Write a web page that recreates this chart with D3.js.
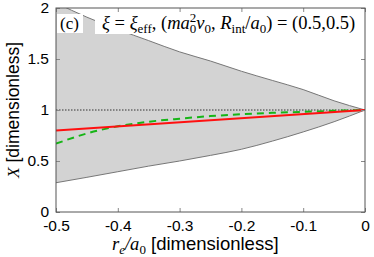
<!DOCTYPE html>
<html>
<head>
<meta charset="utf-8">
<script src="https://cdn.jsdelivr.net/npm/d3@7"></script>
<style>
  body { margin: 0; background: #fff; }
  text { fill: #000; }
</style>
</head>
<body>
<div id="container"></div>
<script>
// values
var reValues   = [-0.5, -0.45, -0.4, -0.35, -0.3, -0.25, -0.2, -0.15, -0.1, -0.05, 0];
var bandUpper  = [2.05, 1.91, 1.79, 1.68, 1.57, 1.48, 1.38, 1.29, 1.20, 1.09, 1.0];
var bandLower  = [0.287, 0.34, 0.395, 0.45, 0.50, 0.555, 0.615, 0.695, 0.785, 0.885, 1.0];
var greenX     = [0.67, 0.77, 0.84, 0.885, 0.915, 0.94, 0.958, 0.972, 0.982, 0.992, 1.0];
var redX       = [0.80, 1.0];
var redRe      = [-0.5, 0];
var xTicks     = [-0.5, -0.4, -0.3, -0.2, -0.1, 0];
var yTicks     = [0, 0.5, 1, 1.5, 2];

var margin = { top: 8, right: 9, bottom: 45, left: 56 },
  width = 374 - margin.left - margin.right,
  height = 257 - margin.top - margin.bottom;

var x = d3.scaleLinear().domain([-0.5, 0]).range([0, width]);
var y = d3.scaleLinear().domain([0, 2]).range([height, 0]);

var svg = d3.select("#container")
  .append("svg")
  .attr("width", 374)
  .attr("height", 257);

var g = svg.append("g")
  .attr("transform", "translate(" + margin.left + "," + margin.top + ")");

g.append("clipPath").attr("id", "clip")
  .append("rect").attr("width", width).attr("height", height);

var band = reValues.map(function (r, i) { return { r: r, lo: bandLower[i], hi: bandUpper[i] }; });

var area = d3.area()
  .curve(d3.curveMonotoneX)
  .x(function (d) { return x(d.r); })
  .y0(function (d) { return y(d.lo); })
  .y1(function (d) { return y(d.hi); });

var plot = g.append("g").attr("clip-path", "url(#clip)");

plot.append("path")
  .attr("d", area(band))
  .attr("fill", "#d3d3d3");

var line = d3.line()
  .curve(d3.curveMonotoneX)
  .x(function (d) { return x(d[0]); })
  .y(function (d) { return y(d[1]); });

plot.append("path")
  .attr("d", line(band.map(function (d) { return [d.r, d.hi]; })))
  .attr("fill", "none").attr("stroke", "#777").attr("stroke-width", 1);
plot.append("path")
  .attr("d", line(band.map(function (d) { return [d.r, d.lo]; })))
  .attr("fill", "none").attr("stroke", "#777").attr("stroke-width", 1);

// dotted reference at X = 1
plot.append("path")
  .attr("d", line([[-0.5, 1], [0, 1]]))
  .attr("stroke", "#333").attr("stroke-width", 1)
  .attr("stroke-dasharray", "1.5,1.5");

plot.append("path")
  .attr("d", line(reValues.map(function (r, i) { return [r, greenX[i]]; })))
  .attr("fill", "none").attr("stroke", "#16b516").attr("stroke-width", 2)
  .attr("stroke-dasharray", "7,5");

plot.append("path")
  .attr("d", line(redRe.map(function (r, i) { return [r, redX[i]]; })))
  .attr("fill", "none").attr("stroke", "#ff1010").attr("stroke-width", 2);

// axes with inward ticks on all sides
var tickLen = 4;
var fmt = function (d) { return d === 0 ? "0" : d3.format(".1f")(d).replace("−", "-"); };
g.append("g")
  .attr("transform", "translate(0," + height + ")")
  .call(d3.axisBottom(x).tickValues(xTicks).tickSizeInner(-tickLen).tickSizeOuter(0).tickPadding(8)
    .tickFormat(fmt));
g.append("g")
  .call(d3.axisTop(x).tickValues(xTicks).tickSizeInner(-tickLen).tickSizeOuter(0).tickFormat(""));
g.append("g")
  .call(d3.axisLeft(y).tickValues(yTicks).tickSizeInner(-tickLen).tickSizeOuter(0).tickPadding(7)
    .tickFormat(function (d) { return String(d); }));
g.append("g")
  .attr("transform", "translate(" + width + ",0)")
  .call(d3.axisRight(y).tickValues(yTicks).tickSizeInner(-tickLen).tickSizeOuter(0).tickFormat(""));

g.selectAll(".domain").remove();
g.selectAll(".tick line").attr("stroke", "#888");
g.selectAll(".tick text")
  .attr("font-family", "Liberation Sans, Arial, sans-serif")
  .attr("font-size", 15.5)
  .attr("fill", "#000");

g.append("rect")
  .attr("width", width).attr("height", height)
  .attr("fill", "none").attr("stroke", "#555").attr("stroke-width", 1);

// panel label and formula boxes
g.append("rect").attr("x", 1).attr("y", 6).attr("width", 26).attr("height", 19).attr("fill", "#fff");
g.append("text").attr("x", 4).attr("y", 21)
  .attr("font-family", "Liberation Serif, serif").attr("font-size", 17)
  .text("(c)");

g.append("rect").attr("x", 39).attr("y", 5).attr("width", 266).attr("height", 21).attr("fill", "#fff");
var f = g.append("text").attr("x", 46).attr("y", 21)
  .attr("font-family", "Liberation Serif, serif").attr("font-size", 18.5);
f.append("tspan").attr("font-style", "italic").text("ξ");
f.append("tspan").text(" = ");
f.append("tspan").attr("font-style", "italic").text("ξ");
f.append("tspan").attr("font-size", 13).attr("dy", 4).text("eff");
f.append("tspan").attr("dy", -4).text(", (");
f.append("tspan").attr("font-style", "italic").text("ma");
f.append("tspan").attr("font-size", 13).attr("dy", -7).text("2");
f.append("tspan").attr("font-size", 13).attr("dy", 11).attr("dx", -6.5).text("0");
f.append("tspan").attr("font-style", "italic").attr("dy", -4).text("ν");
f.append("tspan").attr("font-size", 13).attr("dy", 4).text("0");
f.append("tspan").attr("dy", -4).text(", ");
f.append("tspan").attr("font-style", "italic").text("R");
f.append("tspan").attr("font-size", 13).attr("dy", 4).text("int");
f.append("tspan").attr("dy", -4).text("/");
f.append("tspan").attr("font-style", "italic").text("a");
f.append("tspan").attr("font-size", 13).attr("dy", 4).text("0");
f.append("tspan").attr("dy", -4).text(") = (0.5,0.5)");

// axis titles
var xt = svg.append("text")
  .attr("x", 112).attr("y", 250)
  .attr("font-size", 18.5);
xt.append("tspan").attr("font-family", "Liberation Serif, serif").attr("font-style", "italic").text("r");
xt.append("tspan").attr("font-family", "Liberation Serif, serif").attr("font-style", "italic")
  .attr("font-size", 13).attr("dy", 4).text("e");
xt.append("tspan").attr("font-family", "Liberation Serif, serif").attr("font-style", "italic").attr("dy", -4).text("/a");
xt.append("tspan").attr("font-family", "Liberation Serif, serif").attr("font-size", 13).attr("dy", 4).text("0");
xt.append("tspan").attr("font-family", "Liberation Sans, Arial, sans-serif").attr("dy", -4).text(" [dimensionless]");

var yt = svg.append("text")
  .attr("transform", "translate(19," + (margin.top + height / 2) + ") rotate(-90)")
  .attr("text-anchor", "middle")
  .attr("font-size", 17.5);
yt.append("tspan").attr("font-family", "Liberation Serif, serif").attr("font-style", "italic").text("X");
yt.append("tspan").attr("font-family", "Liberation Sans, Arial, sans-serif").text(" [dimensionless]");
</script>
</body>
</html>
